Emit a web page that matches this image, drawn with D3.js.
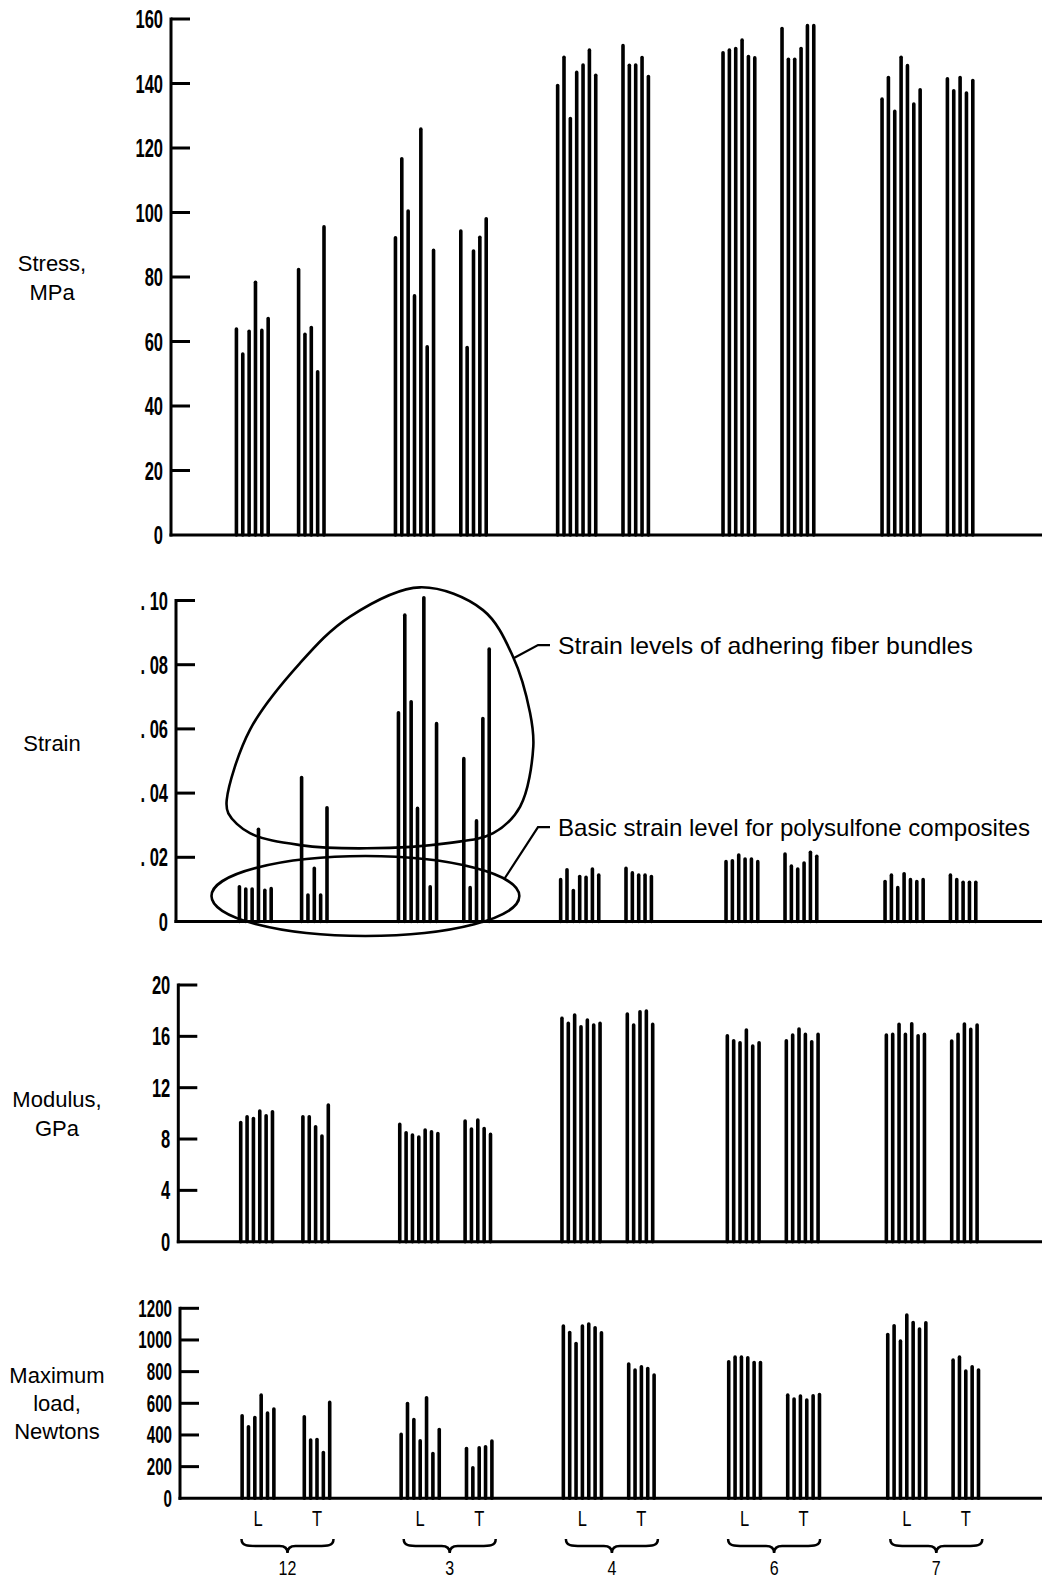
<!DOCTYPE html>
<html><head><meta charset="utf-8">
<script src="https://cdn.jsdelivr.net/npm/d3@7"></script>
<style>
body{margin:0;background:#fff}
svg{display:block}
text{font-family:"Liberation Sans",Arial,sans-serif;fill:#000}
</style>
</head><body>
<svg id="chart" width="1042" height="1581"></svg>
<script>
// ---------------- DATA ----------------
const specimens = ["12", "3", "4", "6", "7"];
const orientations = ["L", "T"];

// order of groups: 12L, 12T, 3L, 3T, 4L, 4T, 6L, 6T, 7L, 7T
const stressMPa = [
  [64.4, 56.7, 63.7, 78.9, 64.0, 67.7],
  [82.9, 62.8, 64.9, 51.2, 96.1],
  [92.7, 117.2, 101.0, 74.7, 126.4, 58.9, 88.8],
  [94.8, 58.7, 88.6, 92.9, 98.6],
  [139.9, 148.7, 129.7, 144.0, 146.3, 150.9, 143.1],
  [152.3, 146.2, 146.3, 148.6, 142.7],
  [150.1, 150.9, 151.4, 154.0, 148.9, 148.5],
  [157.6, 148.1, 148.1, 151.4, 158.5, 158.5],
  [135.7, 142.4, 131.9, 148.7, 146.1, 134.2, 138.6],
  [142.0, 138.3, 142.4, 137.6, 141.5]
];
const strainValues = [
  [0.0114, 0.0107, 0.0107, 0.0293, 0.0103, 0.0108],
  [0.0454, 0.0088, 0.0171, 0.0088, 0.0360],
  [0.0656, 0.0960, 0.0690, 0.0358, 0.1014, 0.0114, 0.0622],
  [0.0513, 0.0111, 0.0319, 0.0638, 0.0854],
  [0.0136, 0.0167, 0.0102, 0.0146, 0.0143, 0.0169, 0.0150],
  [0.0171, 0.0157, 0.0150, 0.0150, 0.0146],
  [0.0192, 0.0195, 0.0213, 0.0200, 0.0200, 0.0192],
  [0.0216, 0.0178, 0.0169, 0.0188, 0.0221, 0.0209],
  [0.0130, 0.0150, 0.0111, 0.0154, 0.0136, 0.0130, 0.0136],
  [0.0150, 0.0136, 0.0128, 0.0128, 0.0128]
];
const modulusGPa = [
  [9.43, 9.88, 9.74, 10.32, 9.95, 10.26],
  [9.88, 9.88, 9.10, 8.37, 10.79],
  [9.28, 8.63, 8.45, 8.29, 8.84, 8.71, 8.57],
  [9.54, 8.92, 9.62, 8.96, 8.50],
  [17.54, 17.15, 17.80, 16.89, 17.41, 17.02, 17.15],
  [17.88, 17.02, 18.06, 18.11, 17.07],
  [16.19, 15.80, 15.64, 16.63, 15.39, 15.64],
  [15.80, 16.24, 16.71, 16.29, 15.72, 16.29],
  [16.24, 16.29, 17.07, 16.29, 17.12, 16.19, 16.29],
  [15.78, 16.29, 17.10, 16.68, 17.02]
];
const maxLoadN = [
  [532, 463, 522, 663, 550, 575],
  [526, 379, 383, 301, 617],
  [415, 610, 509, 375, 646, 294, 446],
  [326, 204, 330, 337, 373],
  [1099, 1059, 989, 1099, 1112, 1088, 1057],
  [859, 821, 842, 831, 790],
  [874, 903, 903, 899, 869, 869],
  [663, 638, 657, 632, 659, 667],
  [1046, 1101, 1004, 1169, 1122, 1080, 1120],
  [884, 903, 815, 842, 821]
];

const stressTicks = [0, 20, 40, 60, 80, 100, 120, 140, 160];
const strainTicks = [0, 0.02, 0.04, 0.06, 0.08, 0.10];
const modulusTicks = [0, 4, 8, 12, 16, 20];
const loadTicks = [0, 200, 400, 600, 800, 1000, 1200];

// annotation outlines in data units (x: specimen index, y: strain)
const adheringOutline = [
  [-0.358, 0.0379], [-0.215, 0.0597], [0.094, 0.0805], [0.402, 0.0950],
  [0.834, 0.1041], [1.222, 0.0970], [1.407, 0.0825], [1.512, 0.0650],
  [1.532, 0.0545], [1.451, 0.0358], [1.285, 0.0275], [1.018, 0.0245],
  [0.505, 0.0228], [0.094, 0.0238], [-0.215, 0.0275], [-0.348, 0.0337]
];
const basicEllipse = {cx: 0.497, cy: 0.00794, rx: 0.949, ry: 0.01246};
const adheringLeader = [[1.413, 0.0821], [1.561, 0.0861], [1.635, 0.0861]];
const basicLeader = [[1.357, 0.01355], [1.561, 0.0294], [1.635, 0.0294]];
const adheringText = "Strain levels of adhering fiber bundles";
const basicText = "Basic strain level for polysulfone composites";

// ---------------- LAYOUT ----------------
const svg = d3.select("#chart");
const W = 1042;
const halfGap = 29.5, barStep = 6.35, barW = 3.6;

function ctext(g, x, y, str, o) {
  return g.append("text")
    .attr("transform", `translate(${x},${y}) scale(${o.sx || 1},1)`)
    .attr("text-anchor", o.anchor || "middle")
    .style("font-size", o.size + "px")
    .style("font-weight", o.weight || "normal")
    .text(str);
}

const panels = [
  {data: stressMPa, domain: [0, 160], range: [535, 19], axisX: 171, shift: -5.7,
   ticks: stressTicks, fmt: d => String(d), title: ["Stress,", "MPa"], titleX: 52, titleY: [271, 300], tsize: 25},
  {data: strainValues, domain: [0, 0.10], range: [921.5, 600.5], axisX: 176, shift: -2.7,
   ticks: strainTicks, fmt: d => d === 0 ? "0" : ". " + d3.format(".2f")(d).slice(2), title: ["Strain"], titleX: 52, titleY: [751], tsize: 25},
  {data: modulusGPa, domain: [0, 20], range: [1241.7, 985], axisX: 178.3, shift: -1.4,
   ticks: modulusTicks, fmt: d => String(d), title: ["Modulus,", "GPa"], titleX: 57, titleY: [1107, 1136], tsize: 25},
  {data: maxLoadN, domain: [0, 1200], range: [1498.3, 1308.3], axisX: 180, shift: 0,
   ticks: loadTicks, fmt: d => String(d), title: ["Maximum", "load,", "Newtons"], titleX: 57, titleY: [1383, 1411, 1439], tsize: 23}
];

panels.forEach((p, pi) => {
  const g = svg.append("g");
  const y = d3.scaleLinear().domain(p.domain).range(p.range);
  const xi = d3.scaleLinear().domain([0, specimens.length - 1]).range([287.5 + p.shift, 936.3 + p.shift]);
  p.y = y; p.xi = xi;
  const y0 = y(0);

  g.append("line").attr("x1", p.axisX).attr("x2", p.axisX)
    .attr("y1", y(p.domain[1])).attr("y2", y0)
    .attr("stroke", "#000").attr("stroke-width", 3).attr("stroke-linecap", "square");
  g.append("line").attr("x1", p.axisX - 1.5).attr("x2", W)
    .attr("y1", y0).attr("y2", y0)
    .attr("stroke", "#000").attr("stroke-width", 3);
  p.ticks.forEach(t => {
    if (t !== 0) {
      g.append("line").attr("x1", p.axisX).attr("x2", p.axisX + 19)
        .attr("y1", y(t)).attr("y2", y(t))
        .attr("stroke", "#000").attr("stroke-width", 3);
    }
    ctext(g, p.axisX - 8, y(t) + p.tsize * 0.36, p.fmt(t),
      {size: p.tsize, weight: "bold", sx: 0.66, anchor: "end"});
  });
  p.title.forEach((line, li) => {
    ctext(g, p.titleX, p.titleY[li], line, {size: 22, sx: 1, anchor: "middle"});
  });

  specimens.forEach((s, si) => {
    orientations.forEach((o, oi) => {
      const vals = p.data[si * 2 + oi];
      const cx = xi(si) + (oi === 0 ? -halfGap : halfGap);
      const n = vals.length;
      g.selectAll(null).data(vals).enter().append("line")
        .attr("x1", (d, j) => cx + (j - (n - 1) / 2) * barStep)
        .attr("x2", (d, j) => cx + (j - (n - 1) / 2) * barStep)
        .attr("y1", y0)
        .attr("y2", d => y(d) + barW / 2)
        .attr("stroke", "#000").attr("stroke-width", barW)
        .attr("stroke-linecap", "round");
    });
  });
});

// ---------------- STRAIN ANNOTATIONS ----------------
{
  const p = panels[1];
  const g = svg.append("g");
  const px = d => p.xi(d[0]), py = d => p.y(d[1]);
  g.append("path")
    .attr("d", d3.line().x(px).y(py).curve(d3.curveCatmullRomClosed.alpha(0.5))(adheringOutline))
    .attr("fill", "none").attr("stroke", "#000").attr("stroke-width", 2.6);
  const e = basicEllipse;
  g.append("ellipse")
    .attr("cx", p.xi(e.cx)).attr("cy", p.y(e.cy))
    .attr("rx", p.xi(e.cx + e.rx) - p.xi(e.cx))
    .attr("ry", p.y(0) - p.y(e.ry))
    .attr("fill", "none").attr("stroke", "#000").attr("stroke-width", 2.6);
  [adheringLeader, basicLeader].forEach(L => {
    g.append("path").attr("d", d3.line().x(px).y(py)(L))
      .attr("fill", "none").attr("stroke", "#000").attr("stroke-width", 2.2);
  });
  const tx1 = p.xi(adheringLeader[2][0]) + 8;
  g.append("text").attr("x", tx1).attr("y", p.y(adheringLeader[2][1]) + 8.5)
    .attr("textLength", 415).attr("lengthAdjust", "spacingAndGlyphs")
    .style("font-size", "24px").text(adheringText);
  g.append("text").attr("x", tx1).attr("y", p.y(basicLeader[2][1]) + 8.5)
    .attr("textLength", 472).attr("lengthAdjust", "spacingAndGlyphs")
    .style("font-size", "24px").text(basicText);
}

// ---------------- BOTTOM CATEGORY LABELS ----------------
{
  const p = panels[3];
  const g = svg.append("g");
  specimens.forEach((s, si) => {
    const cx = p.xi(si);
    orientations.forEach((o, oi) => {
      ctext(g, cx + (oi === 0 ? -halfGap : halfGap), 1526, o, {size: 22, sx: 0.75});
    });
    const bw = 46, yt = 1539, ym = 1546, yb = 1553;
    const d = `M${cx - bw},${yt} C${cx - bw},${ym} ${cx - bw + 6},${ym} ${cx - bw + 16},${ym}` +
      ` L${cx - 8},${ym} C${cx - 3},${ym} ${cx},${ym + 2} ${cx},${yb}` +
      ` C${cx},${ym + 2} ${cx + 3},${ym} ${cx + 8},${ym}` +
      ` L${cx + bw - 16},${ym} C${cx + bw - 6},${ym} ${cx + bw},${ym} ${cx + bw},${yt}`;
    g.append("path").attr("d", d).attr("fill", "none").attr("stroke", "#000").attr("stroke-width", 2.5);
    ctext(g, cx, 1575, s, {size: 20, sx: 0.8});
  });
}
</script>
</body></html>
